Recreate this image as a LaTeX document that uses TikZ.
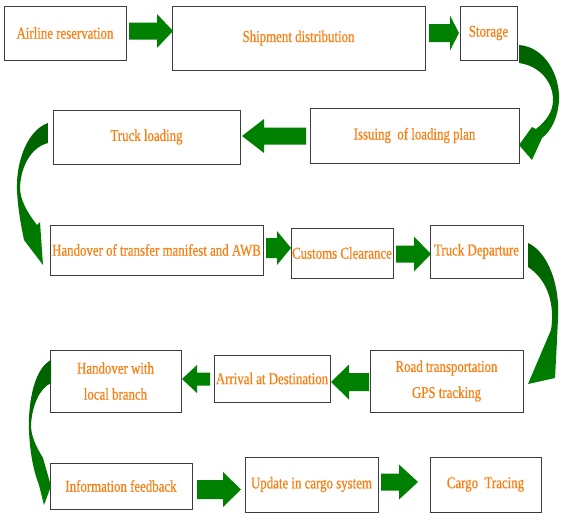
\documentclass[tikz,border=0pt]{standalone}
\usepackage{fontspec}
\setmainfont{Liberation Serif}[FakeStretch=0.78,FakeBold=0.5]
\definecolor{txt}{RGB}{250,128,20}
\definecolor{ag}{RGB}{0,128,0}
\definecolor{agd}{RGB}{0,96,0}
\definecolor{bxc}{RGB}{60,60,60}
\newcommand{\blockarr}[6]{\fill[ag] (#1,#4-#5) -- (#2,#4-#5) -- (#2,#4-#6) -- (#3,#4) -- (#2,#4+#6) -- (#2,#4+#5) -- (#1,#4+#5) -- cycle;}
\newcommand{\mybox}[6]{\node[stepbox, minimum width={#4-#2}, minimum height={#5-#3}] (#1) at ({(#2+#4)/2},{(#3+#5)/2}) {#6};}
\tikzset{
  stepbox/.style={draw=bxc, line width=1pt, fill=white, text=txt, inner sep=0pt,
    align=center, font=\fontsize{16.5}{26}\selectfont},
  curvarr/.style={top color=agd, bottom color=ag, draw=none}
}
\begin{document}
\begin{tikzpicture}[x=1pt,y=-1pt]
\useasboundingbox[fill=white] (0,0) rectangle (563,520);
% boxes
\mybox{air}{4}{6}{126}{60}{Airline reservation}
\mybox{ship}{172}{6}{425}{70}{Shipment distribution}
\mybox{stor}{460}{6}{517}{60}{Storage}
\mybox{truck}{53}{110}{240}{164}{Truck loading}
\mybox{issue}{310}{108}{519}{163}{Issuing\ \ of loading plan}
\mybox{hand}{50}{225}{263}{275}{Handover of transfer manifest and AWB}
\mybox{cust}{291}{228}{393}{278}{Customs Clearance}
\mybox{dep}{430}{225}{523}{278}{Truck Departure}
\mybox{hloc}{50}{350}{181}{412}{Handover with\\local branch}
\mybox{arr}{214}{355}{330}{402}{Arrival at Destination}
\mybox{road}{370}{350}{523}{412}{Road transportation\\GPS tracking}
\mybox{info}{50}{463}{192}{509}{Information feedback}
\mybox{upd}{245}{457}{378}{512}{Update in cargo system}
\mybox{cargo}{430}{457}{541}{512}{Cargo\ \ Tracing}
% straight block arrows
\blockarr{129}{157}{173}{31}{8.5}{17}
\blockarr{429}{450}{459}{33}{9}{17.5}
\blockarr{306}{264}{242}{136}{8.5}{17}
\blockarr{266}{277}{291}{248}{10}{17}
\blockarr{396}{414}{431}{254}{8.5}{17.5}
\blockarr{210}{197}{182}{379}{6.5}{14}
\blockarr{369}{349}{331}{382}{9}{17.5}
\blockarr{197}{223}{241}{489.5}{9.5}{17.5}
\blockarr{381}{399}{418}{482}{8.5}{17.5}
% curved arrows
\shade[curvarr] (519,45) .. controls (545,47) and (560,75) .. (559,100)
  .. controls (558,118) and (551,131) .. (542,138) -- (532,160) -- (519,145) -- (532,127)
  -- (536,129) .. controls (546,121) and (553,112) .. (553,100)
  .. controls (553,82) and (540,66) .. (519,63) -- cycle;
\shade[curvarr] (48,123) .. controls (28,130) and (16,160) .. (17,190)
  .. controls (18,210) and (21,225) .. (24,240) -- (43,265) -- (40,222)
  -- (37,225) .. controls (27,212) and (20,200) .. (20,187)
  .. controls (21,165) and (32,147) .. (48,143) -- cycle;
\shade[curvarr] (528,243) .. controls (548,252) and (560,285) .. (558,318)
  .. controls (557,340) and (556,360) .. (555,378) -- (528,384) -- (551,330)
  .. controls (555,305) and (548,280) .. (528,267) -- cycle;
\shade[curvarr] (51,360) .. controls (35,368) and (28,400) .. (29,430)
  .. controls (30,455) and (34,472) .. (39,485) -- (44,505) -- (51,486) -- (43,458)
  .. controls (35,445) and (31,435) .. (31,425)
  .. controls (32,405) and (40,388) .. (51,383) -- cycle;
\end{tikzpicture}
\end{document}
